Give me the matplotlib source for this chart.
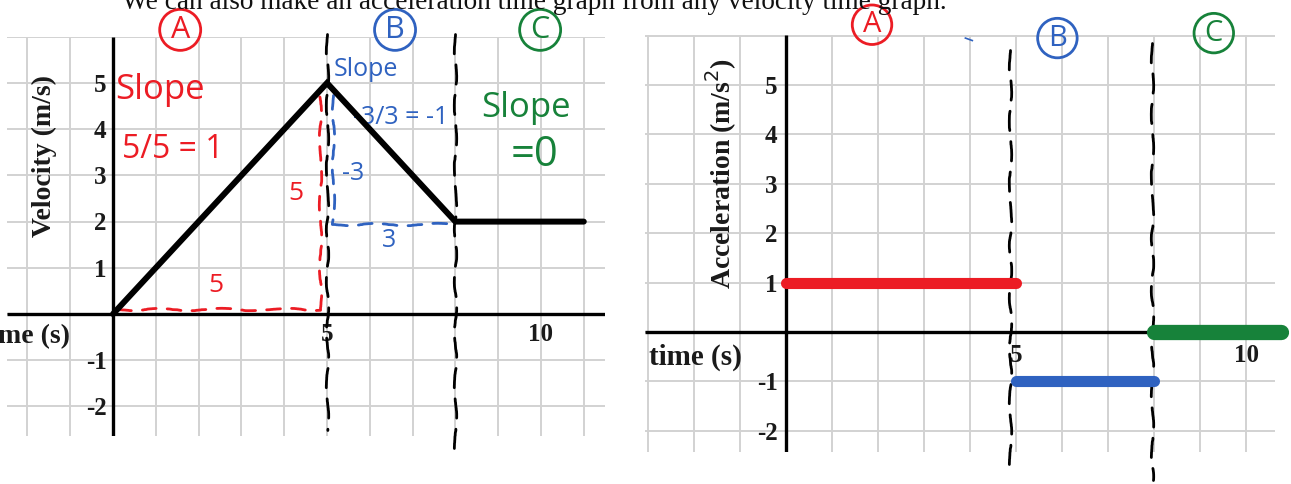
import numpy as np
import matplotlib.pyplot as plt

W, H = 1291, 484

title = "We can also make an acceleration time graph from any velocity time graph."

# velocity-time graph
t_vel = [0, 5, 8, 11]
v_vel = [0, 5, 2, 2]
vel_yticks = [5, 4, 3, 2, 1, -1, -2]
vel_xticks = [5, 10]

# acceleration-time graph (slope of each section)
seg_start = [0, 5, 8]
seg_end = [5, 8, 10.75]
accel = [1, -1, 0]
acc_yticks = [5, 4, 3, 2, 1, -1, -2]
acc_xticks = [5, 10]

regions = ["A", "B", "C"]
boundaries = [5, 8]

RED = "#ec1c24"
BLUE = "#2f62c0"
GREEN = "#17823a"
GRID = "#d2d2d2"
INK = "#1a1a1a"
HAND = "Open Sans"
SERIF = "Liberation Serif"


def place_axes(fig, ox, oy, ux, uy, xlim, ylim):
    # ox, oy = pixel position of the origin, ux, uy = pixels per unit
    left = ox + ux * xlim[0]
    right = ox + ux * xlim[1]
    top = oy - uy * ylim[1]
    bottom = oy - uy * ylim[0]
    ax = fig.add_axes([left / W, 1 - bottom / H, (right - left) / W, (bottom - top) / H])
    ax.set_xlim(xlim)
    ax.set_ylim(ylim)
    ax.axis("off")
    return ax


def draw_grid(ax, xlim, ylim):
    xs = np.arange(np.ceil(xlim[0]), np.floor(xlim[1]) + 1)
    ys = np.arange(np.ceil(ylim[0]), np.floor(ylim[1]) + 1)
    ax.vlines(xs, ylim[0], ylim[1], color=GRID, lw=1.4, zorder=0)
    ax.hlines(ys, xlim[0], xlim[1], color=GRID, lw=1.4, zorder=0)
    ax.plot([xlim[0], xlim[1]], [0, 0], color="black", lw=2.4, zorder=2,
            solid_capstyle="butt")
    ax.plot([0, 0], [ylim[0], ylim[1]], color="black", lw=2.4, zorder=2,
            solid_capstyle="butt")


def hand_dash(ax, xs, ys, color="black", lw=2.0, dash=(7, 4)):
    line, = ax.plot(xs, ys, color=color, lw=lw, ls=(0, dash), clip_on=False,
                    zorder=4, solid_capstyle="round", dash_capstyle="round")
    line.set_sketch_params(scale=1.2, length=80, randomness=4)
    return line


def circled(ax, x, y, s, color, size=22):
    ax.text(x, y, s, color=color, fontsize=size, family=HAND, ha="center",
            va="center", clip_on=False, zorder=5,
            bbox=dict(boxstyle="circle,pad=0.18", fc="none", ec=color, lw=2.0))


def tick_text(ax, x, y, s, ha):
    ax.text(x, y, s, family=SERIF, fontweight="bold", fontsize=18, ha=ha,
            va="center", color=INK, clip_on=False)


fig = plt.figure(figsize=(W / 100, H / 100), dpi=100)
fig.patch.set_facecolor("white")

fig.text(122 / W, 1 - 9 / H, title, family=SERIF, fontsize=19.6, ha="left",
         va="baseline", color="#111111")

# ---------------- velocity vs time ----------------
xl1, yl1 = (-2.47, 11.5), (-2.65, 6.0)
ax1 = place_axes(fig, 113, 314, 42.8, 46.2, xl1, yl1)
draw_grid(ax1, xl1, yl1)

ax1.plot(t_vel, v_vel, color="black", lw=4.3, zorder=6, solid_joinstyle="miter",
         solid_capstyle="round")

for v in vel_yticks:
    tick_text(ax1, -0.15, v - 0.05, str(v), "right")
for t in vel_xticks:
    tick_text(ax1, t, -0.45, str(t), "center")
ax1.text(-1.0, -0.48, "time (s)", family=SERIF, fontweight="bold", fontsize=20,
         ha="right", va="center", clip_on=False, color=INK)
ax1.text(-1.6, 3.42, "Velocity (m/s)", family=SERIF, fontweight="bold", fontsize=20,
         rotation=90, ha="center", va="center", color=INK)

# section boundaries
hand_dash(ax1, [boundaries[0], boundaries[0]], [6.05, -2.5])
hand_dash(ax1, [boundaries[1], boundaries[1]], [6.05, -3.05])

# rise over run for section A
hand_dash(ax1, [0.1, 4.84], [0.11, 0.11], color=RED, lw=2.0, dash=(5, 4))
hand_dash(ax1, [4.84, 4.84], [0.11, 4.8], color=RED, lw=2.0, dash=(5, 4))
ax1.text(2.4, 0.62, "5", color=RED, family=HAND, fontsize=19, ha="center", va="center")
ax1.text(4.28, 2.6, "5", color=RED, family=HAND, fontsize=19, ha="center", va="center")
ax1.text(0.05, 4.85, "Slope", color=RED, family=HAND, fontsize=25, ha="left", va="center")
ax1.text(0.2, 3.55, "5/5 = 1", color=RED, family=HAND, fontsize=23, ha="left", va="center")

# rise over run for section B
hand_dash(ax1, [5.14, 5.14], [4.75, 1.95], color=BLUE, lw=2.0, dash=(5, 4))
hand_dash(ax1, [5.14, 7.99], [1.95, 1.95], color=BLUE, lw=2.0, dash=(5, 4))
ax1.text(5.6, 3.05, "-3", color=BLUE, family=HAND, fontsize=18, ha="center", va="center")
ax1.text(6.45, 1.6, "3", color=BLUE, family=HAND, fontsize=18, ha="center", va="center")
ax1.text(5.15, 5.3, "Slope", color=BLUE, family=HAND, fontsize=18, ha="left", va="center")
ax1.text(5.6, 4.25, "-3/3 = -1", color=BLUE, family=HAND, fontsize=18, ha="left", va="center")

# section C is flat
ax1.text(8.6, 4.45, "Slope", color=GREEN, family=HAND, fontsize=25, ha="left", va="center")
ax1.text(9.3, 3.45, "=0", color=GREEN, family=HAND, fontsize=30, ha="left", va="center")

for x, s, c in zip([1.57, 6.59, 9.98], regions, [RED, BLUE, GREEN]):
    circled(ax1, x, 6.15, s, c)

# ---------------- acceleration vs time ----------------
xl2, yl2 = (-3.07, 10.62), (-2.43, 6.02)
ax2 = place_axes(fig, 786, 332, 46.0, 49.4, xl2, yl2)
draw_grid(ax2, xl2, yl2)

for x0, x1, a, c, lw in zip(seg_start, seg_end, accel, [RED, BLUE, GREEN], [8, 8, 11]):
    ax2.plot([x0, x1], [a, a], color=c, lw=lw, solid_capstyle="round",
             zorder=6, clip_on=False)

for v in acc_yticks:
    tick_text(ax2, -0.18, v - 0.05, str(v), "right")
for t in acc_xticks:
    tick_text(ax2, t, -0.48, str(t), "center")
ax2.text(-0.95, -0.52, "time (s)", family=SERIF, fontweight="bold", fontsize=21,
         ha="right", va="center", color=INK)
ax2.text(-1.4, 3.2, "Acceleration (m/s$^2$)", family=SERIF, fontweight="bold",
         fontsize=20, rotation=90, ha="center", va="center", color=INK)

hand_dash(ax2, [4.88, 4.88], [5.7, -2.7])
hand_dash(ax2, [7.95, 7.95], [5.85, -3.0])

# stray pen mark near the top
ax2.plot([3.9, 4.05], [5.95, 5.9], color=BLUE, lw=1.2, clip_on=False)

for x, y, s, c in zip([1.87, 5.9, 9.3], [6.22, 5.95, 6.05], regions, [RED, BLUE, GREEN]):
    circled(ax2, x, y, s, c, size=21)

fig.savefig("out.png", dpi=100, facecolor="white")
